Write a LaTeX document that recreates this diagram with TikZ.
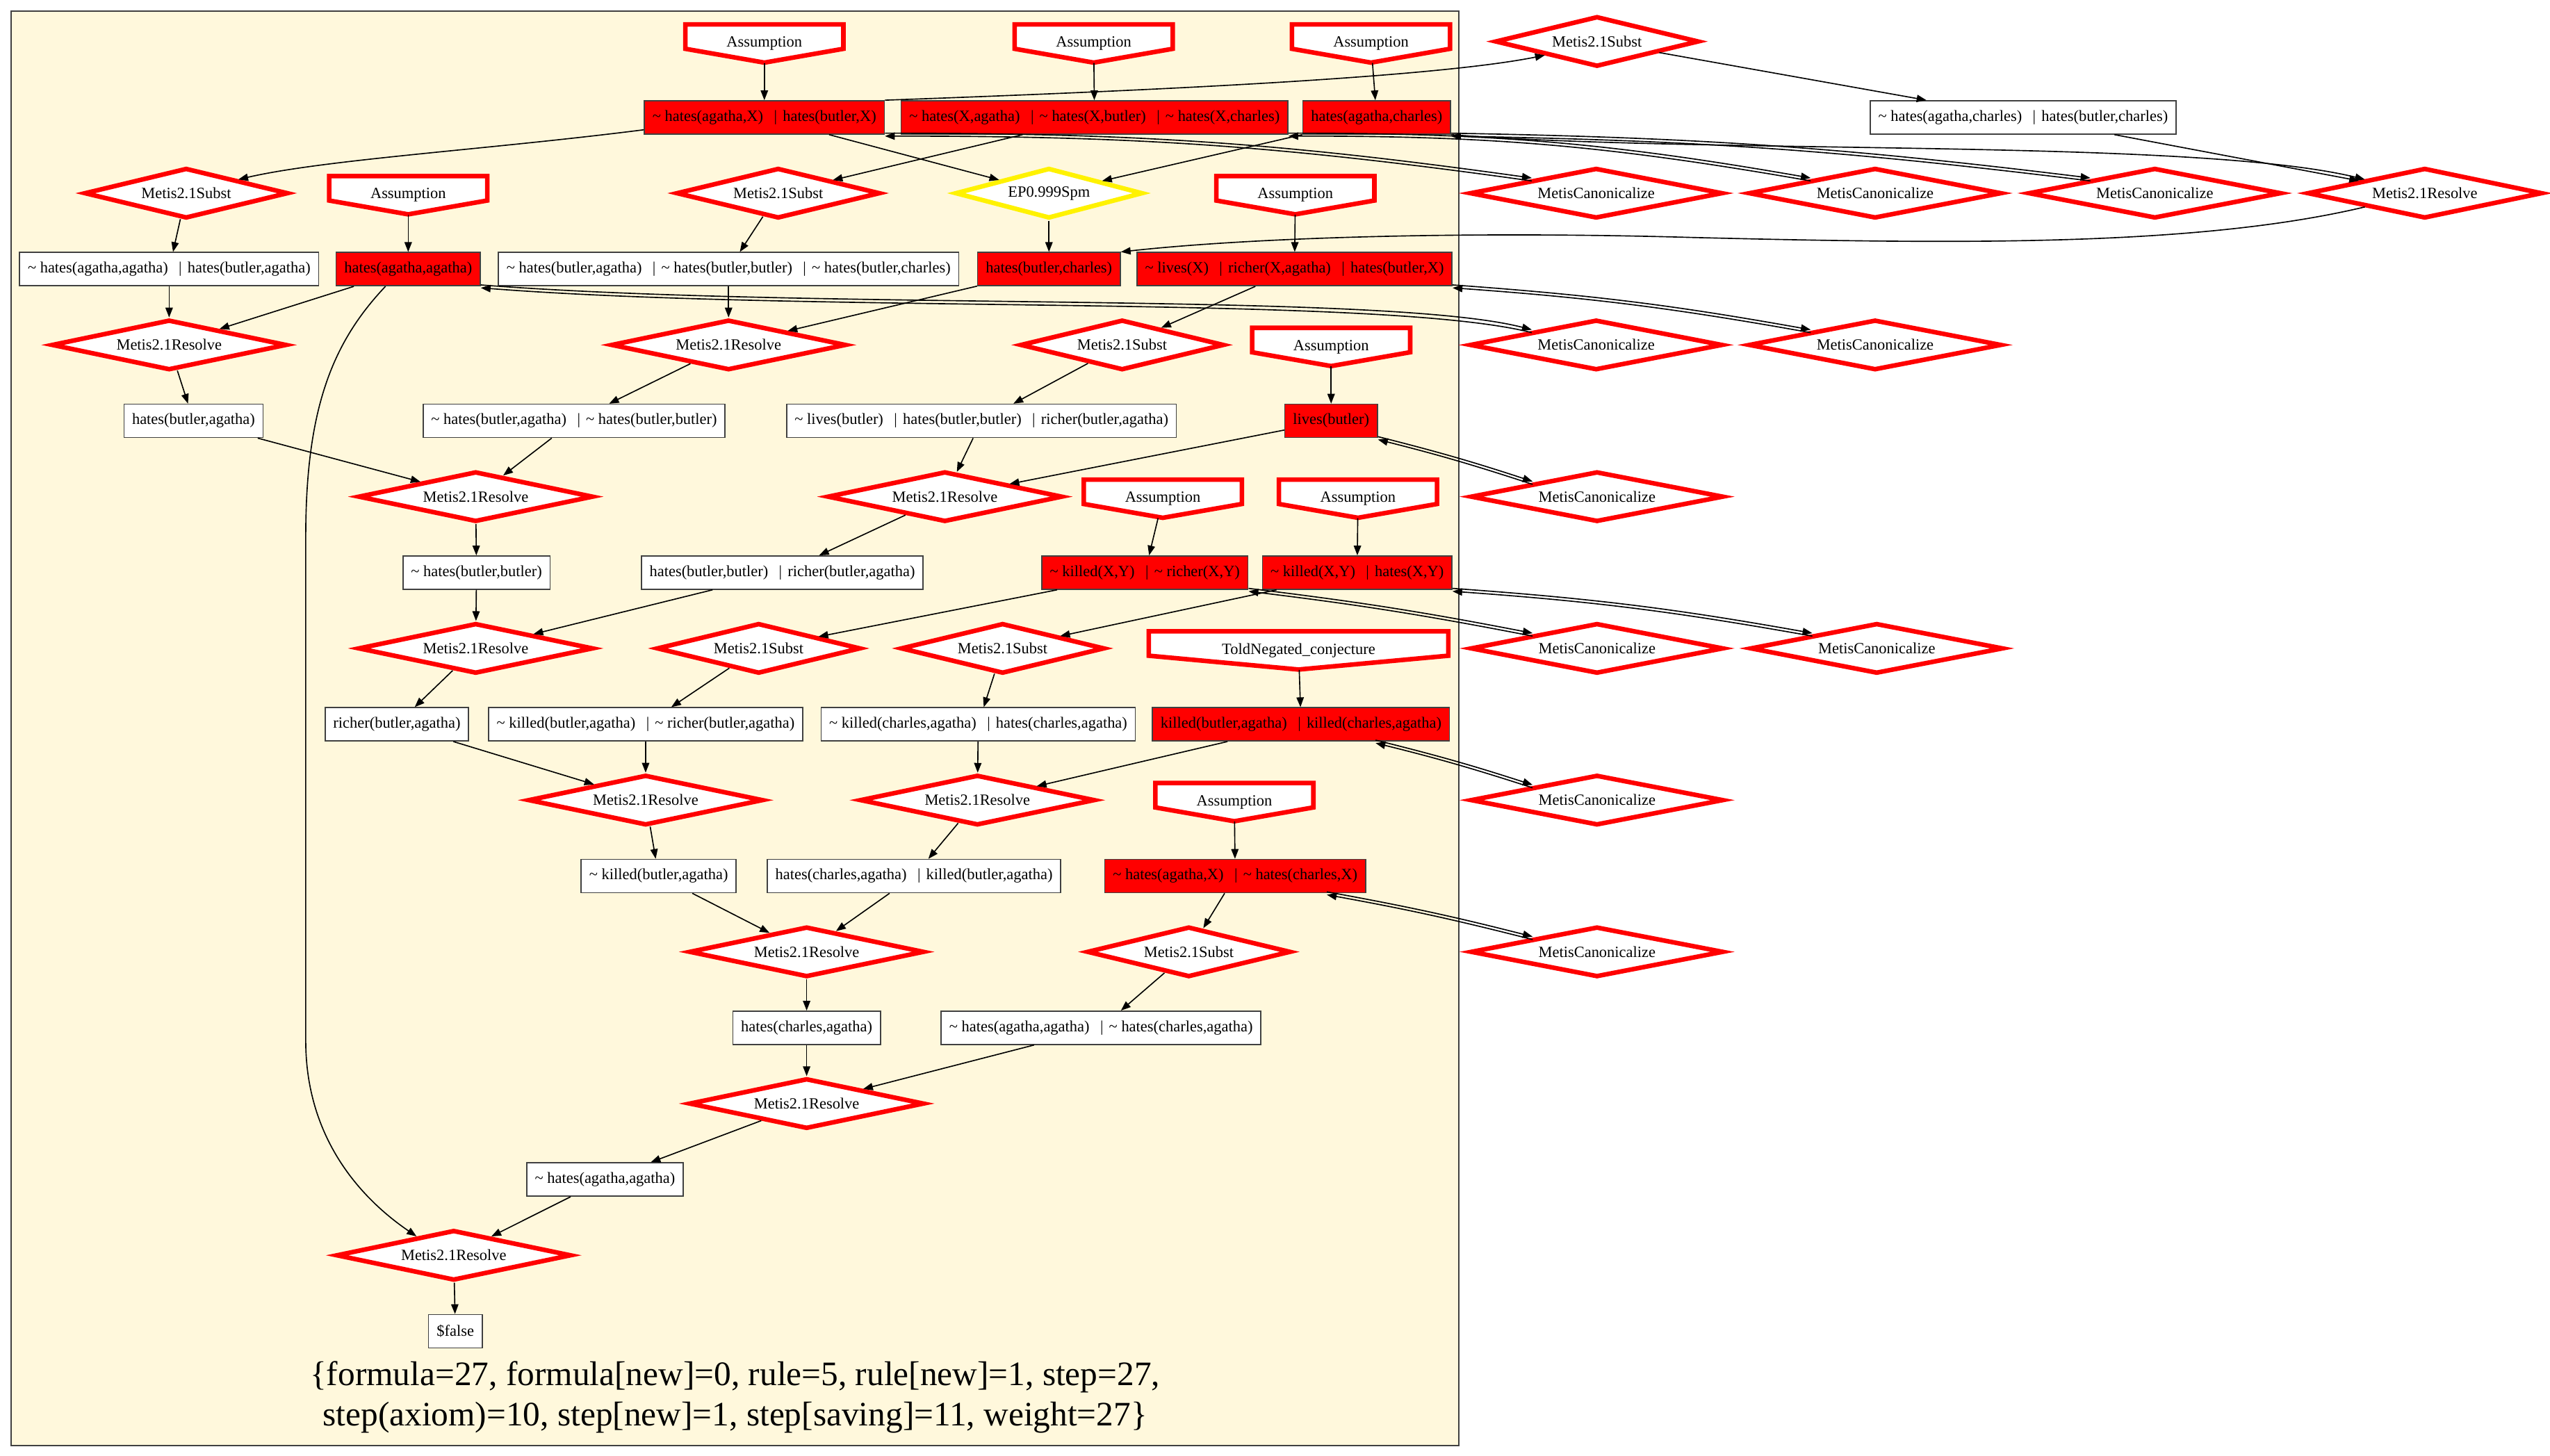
\documentclass[tikz,border=0pt]{standalone}
\usepackage{fontspec}
\setmainfont{Liberation Serif}
\usetikzlibrary{shapes.geometric,arrows.meta,calc}
\definecolor{clusterfill}{HTML}{FFF8DC}

% clause separators
\newcommand{\orsep}{\hspace{6.6pt}|\hspace{3.5pt}}
\newcommand{\negsym}{\textasciitilde\ }

% inverted-house node: name, x, y, width, text
\newcommand{\housenode}[5]{%
  \filldraw[housepath] ({#2-#4/2+1.4},{#3-10.5}) -- ({#2+#4/2-1.4},{#3-10.5})
    -- ({#2+#4/2-1.4},{#3+4.5}) -- (#2,{#3+13}) -- ({#2-#4/2+1.4},{#3+4.5}) -- cycle;
  \node[housetext, minimum width=#4-3] (#1) at (#2,{#3+1.25}) {#5};
}

% pair of opposite edges between a clause and its canonicalisation
\newcommand{\twoway}[3]{%
  \draw[conn, transform canvas={yshift=0.9pt}] #1 to[bend left=#3] #2;
  \draw[conn, transform canvas={yshift=-0.9pt}] #2 to[bend right=#3] #1;
}

\begin{document}
\begin{tikzpicture}[x=1pt, y=-1pt,
  every node/.style={font=\fontsize{9.6}{11.5}\selectfont},
  box/.style={rectangle, draw=black!75, line width=0.7pt, minimum height=20.5pt,
    inner xsep=5pt, inner ysep=0pt},
  clause/.style={box, fill=white},
  given/.style={box, fill=red},
  rulebox/.style={diamond, aspect=5, inner sep=0pt, line width=2.8pt, draw=red,
    fill=white, minimum height=31pt},
  subst/.style={rulebox, minimum width=125.4pt},
  resolve/.style={rulebox, minimum width=144.6pt},
  canon/.style={rulebox, minimum width=155.6pt},
  spm/.style={rulebox, draw=yellow, minimum width=115.4pt},
  housepath/.style={draw=red, fill=white, line width=2.8pt, line join=miter},
  housetext/.style={rectangle, inner sep=0pt, minimum height=23.5pt},
  conn/.style={line width=0.7pt, -{Triangle[length=6pt,width=4.5pt]}},
  stats/.style={align=center, font=\fontsize{21.1}{24.8}\selectfont}]

\useasboundingbox (0,0) rectangle (1568,895);

% proof cluster
\draw[fill=clusterfill, draw=black!75, line width=0.8pt] (6.7,6.7) rectangle (897,889);

% ---------- row 0
\housenode{A1}{470}{25.5}{100}{Assumption}
\housenode{A2}{672.5}{25.5}{100}{Assumption}
\housenode{A3}{843}{25.5}{100}{Assumption}
\node[subst] (SubTR) at (982,25.5) {Metis2.1Subst};

% ---------- row 1
\node[given] (R1) at (470,72.2) {\negsym hates(agatha,X)\orsep hates(butler,X)};
\node[given] (R2) at (673,72.2) {\negsym hates(X,agatha)\orsep\negsym hates(X,butler)\orsep\negsym hates(X,charles)};
\node[given] (R3) at (846.5,72.2) {hates(agatha,charles)};
\node[clause] (WTR) at (1244,72.2) {\negsym hates(agatha,charles)\orsep hates(butler,charles)};

% ---------- row 2
\node[subst] (S1) at (114.5,118.8) {Metis2.1Subst};
\housenode{A4}{251}{118.8}{100}{Assumption}
\node[subst] (S2) at (478.5,118.8) {Metis2.1Subst};
\node[spm] (EP) at (645,118.8) {EP0.999Spm};
\housenode{A5}{796.5}{118.8}{100}{Assumption}
\node[canon] (C1) at (981.5,118.8) {MetisCanonicalize};
\node[canon] (C2) at (1153,118.8) {MetisCanonicalize};
\node[canon] (C3) at (1325,118.8) {MetisCanonicalize};
\node[resolve] (ResR) at (1491,118.8) {Metis2.1Resolve};

% ---------- row 3
\node[clause] (W1) at (104,165.5) {\negsym hates(agatha,agatha)\orsep hates(butler,agatha)};
\node[given] (HAA) at (251,165.5) {hates(agatha,agatha)};
\node[clause] (W2) at (448,165.5) {\negsym hates(butler,agatha)\orsep\negsym hates(butler,butler)\orsep\negsym hates(butler,charles)};
\node[given] (HBC) at (645,165.5) {hates(butler,charles)};
\node[given] (RL) at (796,165.5) {\negsym lives(X)\orsep richer(X,agatha)\orsep hates(butler,X)};

% ---------- row 4
\node[resolve] (Res1) at (104,212.1) {Metis2.1Resolve};
\node[resolve] (Res2) at (448,212.1) {Metis2.1Resolve};
\node[subst] (S3) at (690,212.1) {Metis2.1Subst};
\housenode{A6}{818.5}{212.1}{100}{Assumption}
\node[canon] (C4) at (981.5,212.1) {MetisCanonicalize};
\node[canon] (C5) at (1153,212.1) {MetisCanonicalize};

% ---------- row 5
\node[clause] (W3) at (119,258.8) {hates(butler,agatha)};
\node[clause] (W4) at (353,258.8) {\negsym hates(butler,agatha)\orsep\negsym hates(butler,butler)};
\node[clause] (W5) at (603.5,258.8) {\negsym lives(butler)\orsep hates(butler,butler)\orsep richer(butler,agatha)};
\node[given] (LB) at (818.5,258.8) {lives(butler)};

% ---------- row 6
\node[resolve] (Res3) at (292.5,305.4) {Metis2.1Resolve};
\node[resolve] (Res4) at (581,305.4) {Metis2.1Resolve};
\housenode{A7}{715}{305.4}{100}{Assumption}
\housenode{A8}{835}{305.4}{100}{Assumption}
\node[canon] (C6) at (982,305.4) {MetisCanonicalize};

% ---------- row 7
\node[clause] (W6) at (293,352.1) {\negsym hates(butler,butler)};
\node[clause] (W7) at (481,352.1) {hates(butler,butler)\orsep richer(butler,agatha)};
\node[given] (KR) at (704,352.1) {\negsym killed(X,Y)\orsep\negsym richer(X,Y)};
\node[given] (KH) at (834.5,352.1) {\negsym killed(X,Y)\orsep hates(X,Y)};

% ---------- row 8
\node[resolve] (Res5) at (292.5,398.7) {Metis2.1Resolve};
\node[subst] (S4) at (466.5,398.7) {Metis2.1Subst};
\node[subst] (S5) at (616.5,398.7) {Metis2.1Subst};
\housenode{TN}{798.5}{398.7}{187}{ToldNegated\_conjecture}
\node[canon] (C7) at (982,398.7) {MetisCanonicalize};
\node[canon] (C8) at (1154,398.7) {MetisCanonicalize};

% ---------- row 9
\node[clause] (W8) at (244,445.4) {richer(butler,agatha)};
\node[clause] (W9) at (397,445.4) {\negsym killed(butler,agatha)\orsep\negsym richer(butler,agatha)};
\node[clause] (W10) at (601.5,445.4) {\negsym killed(charles,agatha)\orsep hates(charles,agatha)};
\node[given] (KK) at (800,445.4) {killed(butler,agatha)\orsep killed(charles,agatha)};

% ---------- row 10
\node[resolve] (Res6) at (397,492) {Metis2.1Resolve};
\node[resolve] (Res7) at (601,492) {Metis2.1Resolve};
\housenode{A9}{759}{492}{100}{Assumption}
\node[canon] (C9) at (982,492) {MetisCanonicalize};

% ---------- row 11
\node[clause] (W11) at (405,538.7) {\negsym killed(butler,agatha)};
\node[clause] (W12) at (562,538.7) {hates(charles,agatha)\orsep killed(butler,agatha)};
\node[given] (HX) at (759.5,538.7) {\negsym hates(agatha,X)\orsep\negsym hates(charles,X)};

% ---------- row 12
\node[resolve] (Res8) at (496,585.3) {Metis2.1Resolve};
\node[subst] (S6) at (731,585.3) {Metis2.1Subst};
\node[canon] (C10) at (982,585.3) {MetisCanonicalize};

% ---------- rows 13-17
\node[clause] (W13) at (496,632) {hates(charles,agatha)};
\node[clause] (W14) at (677,632) {\negsym hates(agatha,agatha)\orsep\negsym hates(charles,agatha)};
\node[resolve] (Res9) at (496,678.6) {Metis2.1Resolve};
\node[clause] (W15) at (372,725.3) {\negsym hates(agatha,agatha)};
\node[resolve] (Res10) at (279,771.9) {Metis2.1Resolve};
\node[clause] (F) at (280,818.6) {\$false};

\node[stats] (stats) at (452,859) {\{formula=27, formula[new]=0, rule=5, rule[new]=1, step=27,\\ step(axiom)=10, step[new]=1, step[saving]=11, weight=27\}};

% ---------- straight derivation edges
\foreach \a/\b in {A1/R1, A2/R2, A3/R3, SubTR/WTR, WTR/ResR, R1/EP, R2/S2, R3/EP,
  EP/HBC, A4/HAA, A5/RL, S1/W1, S2/W2, W1/Res1, HAA/Res1, W2/Res2, HBC/Res2,
  RL/S3, Res1/W3, Res2/W4, S3/W5, A6/LB, W3/Res3, W4/Res3, W5/Res4, LB/Res4,
  Res3/W6, Res4/W7, A7/KR, A8/KH, W6/Res5, W7/Res5, KR/S4, KH/S5, TN/KK,
  Res5/W8, S4/W9, S5/W10, W8/Res6, W9/Res6, W10/Res7, KK/Res7, A9/HX,
  Res6/W11, Res7/W12, HX/S6, W11/Res8, W12/Res8, Res8/W13, S6/W14,
  W13/Res9, W14/Res9, Res9/W15, W15/Res10, Res10/F}
  \draw[conn] (\a) -- (\b);

% ---------- curved derivation edges
\draw[conn] (R1.north east) .. controls (700,56) and (880,48) .. (SubTR.south west);
\draw[conn] (R3.south east) .. controls (1050,95) and (1350,85) .. (ResR.north west);
\draw[conn] (ResR.south west) .. controls (1350,152) and (1200,150) .. (1040,146)
  .. controls (900,142) and (770,146) .. (HBC.north east);
\draw[conn] ([yshift=3pt]R1.south west) .. controls (300,92) and (200,98) .. (S1.north east);
\draw[conn] ([xshift=-14pt]HAA.south) .. controls (205,210) and (188,250) .. (188,330)
  -- (188,640) .. controls (188,700) and (222,737) .. (Res10.153);

% ---------- canonicalisation round trips
\twoway{(R1.south east)}{(C1.north west)}{4}
\twoway{(R2.south east)}{(C2.north west)}{5}
\twoway{(R3.south east)}{(C3.north west)}{3}
\draw[conn, transform canvas={yshift=0.9pt}] (HAA.south east) .. controls (500,192) and (850,180) .. (C4.north west);
\draw[conn, transform canvas={yshift=-0.9pt}] (C4.north west) .. controls (850,180) and (500,192) .. (HAA.south east);
\twoway{(RL.south east)}{(C5.north west)}{3}
\twoway{(LB.south east)}{(C6.north west)}{2}
\twoway{(KR.south east)}{(C7.north west)}{2}
\twoway{(KH.south east)}{(C8.north west)}{3}
\twoway{($(KK.south)!0.5!(KK.south east)$)}{(C9.north west)}{2}
\twoway{($(HX.south)!0.7!(HX.south east)$)}{(C10.north west)}{2}

\end{tikzpicture}
\end{document}
